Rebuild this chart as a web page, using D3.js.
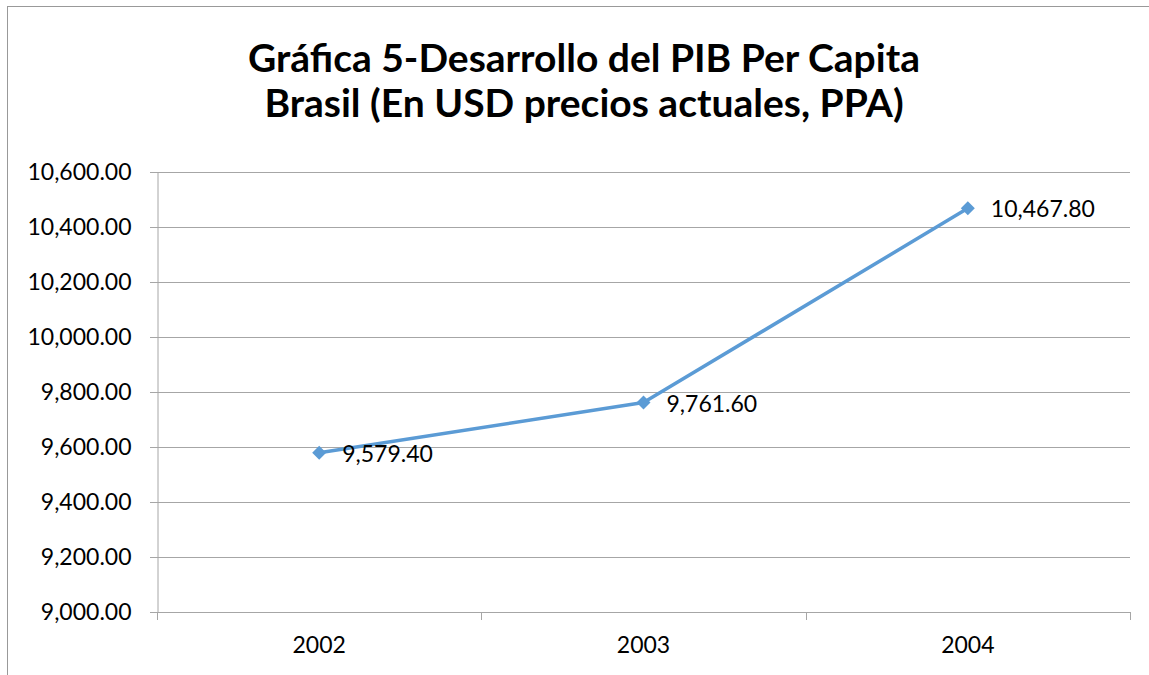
<!DOCTYPE html>
<html>
<head>
<meta charset="utf-8">
<script src="https://cdn.jsdelivr.net/npm/d3@7"></script>
<style>
  body { margin: 0; background: #fff; }
  svg { display: block; font-family: Lato, "Open Sans", sans-serif; }
</style>
</head>
<body>
<div id="chart"></div>
<script>
const years = ['2002', '2003', '2004'];
const gdpValues = [9579.40, 9761.60, 10467.80];
const yTicks = [9000, 9200, 9400, 9600, 9800, 10000, 10200, 10400, 10600];
const titleLines = ['Gráfica 5-Desarrollo del PIB Per Capita', 'Brasil (En USD precios actuales, PPA)'];

const width = 1149;
const height = 675;
const margin = { top: 172, right: 19, bottom: 63, left: 157 };

const svg = d3.select('#chart')
  .append('svg')
  .attr('width', width)
  .attr('height', height);

// outer chart border
svg.append('rect')
  .attr('x', 7.5)
  .attr('y', 6.5)
  .attr('width', width + 20)
  .attr('height', height + 20)
  .attr('fill', 'none')
  .attr('stroke', '#999');

// title
svg.append('text')
  .attr('text-anchor', 'middle')
  .style('font-size', '39px')
  .style('font-weight', 'bold')
  .selectAll('tspan')
  .data(titleLines)
  .join('tspan')
  .attr('x', 584)
  .attr('y', (d, i) => 72 + i * 45)
  .text(d => d);

const x = d3.scaleBand()
  .domain(years)
  .range([margin.left, width - margin.right]);

const y = d3.scaleLinear()
  .domain([9000, 10600])
  .range([height - margin.bottom, margin.top]);

// horizontal gridlines
svg.append('g')
  .selectAll('line')
  .data(yTicks)
  .join('line')
  .attr('x1', margin.left - 7)
  .attr('x2', width - margin.right)
  .attr('y1', d => Math.round(y(d)) + 0.5)
  .attr('y2', d => Math.round(y(d)) + 0.5)
  .attr('stroke', '#a6a6a6')
  .attr('stroke-width', 1);

// y axis
const yAxis = svg.append('g')
  .attr('transform', `translate(${margin.left + 0.5},0)`)
  .call(d3.axisLeft(y).tickValues(yTicks).tickSize(7).tickPadding(19)
    .tickFormat(d3.format(',.2f')));
yAxis.select('.domain').attr('stroke', '#a6a6a6');
yAxis.selectAll('.tick line').remove();
yAxis.selectAll('text')
  .style('font-family', 'Lato, "Open Sans", sans-serif')
  .style('font-size', '23px')
  .attr('fill', '#000');

// x axis
const xBoundaries = years.map(d => x(d)).concat([x(years[years.length - 1]) + x.bandwidth()]);
svg.append('g')
  .selectAll('line')
  .data(xBoundaries)
  .join('line')
  .attr('x1', d => Math.round(d) + 0.5)
  .attr('x2', d => Math.round(d) + 0.5)
  .attr('y1', y(9000))
  .attr('y2', y(9000) + 8)
  .attr('stroke', '#a6a6a6');

svg.append('g')
  .selectAll('text')
  .data(years)
  .join('text')
  .attr('x', d => x(d) + x.bandwidth() / 2)
  .attr('y', y(9000) + 41)
  .attr('text-anchor', 'middle')
  .style('font-size', '23px')
  .text(d => d);

const points = years.map((d, i) => ({ year: d, value: gdpValues[i] }));
const cx = d => x(d.year) + x.bandwidth() / 2;

// line
svg.append('path')
  .datum(points)
  .attr('fill', 'none')
  .attr('stroke', '#5b9bd5')
  .attr('stroke-width', 3.5)
  .attr('stroke-linejoin', 'round')
  .attr('d', d3.line().x(cx).y(d => y(d.value)));

// diamond markers
svg.append('g')
  .selectAll('path')
  .data(points)
  .join('path')
  .attr('transform', d => `translate(${cx(d)},${y(d.value)})`)
  .attr('d', 'M0,-7L7,0L0,7L-7,0Z')
  .attr('fill', '#5b9bd5');

// data labels
svg.append('g')
  .selectAll('text')
  .data(points)
  .join('text')
  .attr('x', d => cx(d) + 23)
  .attr('y', d => y(d.value) + 9)
  .style('font-size', '23px')
  .text(d => d3.format(',.2f')(d.value));
</script>
</body>
</html>
